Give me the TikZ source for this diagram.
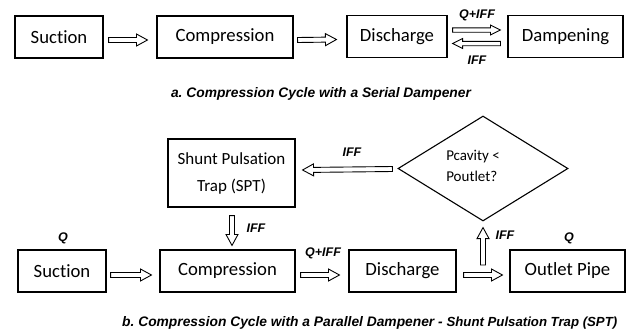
\documentclass[tikz,border=0pt]{standalone}
\usepackage{fontspec}
\setmainfont{Carlito}[Ligatures=NoCommon]
\newfontfamily\lab{Liberation Sans}
\usetikzlibrary{calc,shapes.geometric}
\frenchspacing
\tikzset{
  box/.style={draw, line width=1.1pt, minimum height=42pt, inner sep=0pt, font=\fontsize{18.7}{20}\selectfont},
  lbl/.style={font=\lab\bfseries\itshape\fontsize{12.5}{14}\selectfont, inner sep=0pt},
  captext/.style={font=\lab\bfseries\itshape\fontsize{13.8}{15}\selectfont, inner sep=0pt},
  hollow/.style={line width=0.9pt, line join=miter, to path={
    let \p1=(\tikztostart), \p2=(\tikztotarget),
        \n1={atan2(\y2-\y1,\x2-\x1)}, \n2={veclen(\x2-\x1,\y2-\y1)}
    in [shift={(\p1)}, rotate=\n1]
    (0pt,-2.5pt) -- ({\n2*1pt-11pt},-2.5pt) -- ({\n2*1pt-11pt},-6pt) -- ({\n2*1pt},0pt)
    -- ({\n2*1pt-11pt},6pt) -- ({\n2*1pt-11pt},2.5pt) -- (0pt,2.5pt) -- cycle}},
  hollowsm/.style={line width=0.9pt, line join=miter, to path={
    let \p1=(\tikztostart), \p2=(\tikztotarget),
        \n1={atan2(\y2-\y1,\x2-\x1)}, \n2={veclen(\x2-\x1,\y2-\y1)}
    in [shift={(\p1)}, rotate=\n1]
    (0pt,-2.2pt) -- ({\n2*1pt-10pt},-2.2pt) -- ({\n2*1pt-10pt},-5pt) -- ({\n2*1pt},0pt)
    -- ({\n2*1pt-10pt},5pt) -- ({\n2*1pt-10pt},2.2pt) -- (0pt,2.2pt) -- cycle}},
}
\begin{document}
\begin{tikzpicture}[x=1pt,y=-1pt]
\useasboundingbox (0,0) rectangle (626,335);
% top row
\node[box, minimum width=88pt] (s1) at (59,37) {Suction};
\node[box, minimum width=136pt] (c1) at (225,37) {Compression};
\node[box, minimum width=100pt] (d1) at (397,36.5) {Discharge};
\node[box, minimum width=115pt] (p1) at (565.5,36.5) {Dampening};
\draw[hollow] ($(s1.east)+(5,3)$) to ($(c1.west)+(-9,3)$);
\draw[hollow] ($(c1.east)+(4,3)$) to ($(d1.west)+(-10,3)$);
\draw[hollowsm] ($(d1.east)+(5,-6.5)$) to ($(p1.west)+(-7,-6.5)$);
\draw[hollowsm] ($(p1.west)+(-7,7)$) to ($(d1.east)+(5,7)$);
\node[lbl] (l1) at (477,15) {Q+IFF};
\node[lbl] (l2) at (477,60) {IFF};
\node[captext] (ca) at (321,94) {a. Compression Cycle with a Serial Dampener};
% bottom
\node[box, minimum width=127pt, minimum height=68pt, align=center, font=\fontsize{17}{27}\selectfont] (spt) at (231.5,173) {Shunt Pulsation\\Trap (SPT)};
\node[draw, diamond, line width=1.1pt, minimum width=170pt, minimum height=105pt, inner sep=0pt] (dia) at (483,168.5) {};
\node[align=left, inner sep=0pt, font=\fontsize{15}{21}\selectfont] (dtx) at (473,165.5) {Pcavity <\\Poutlet?};
\node[box, minimum width=88pt] (s2) at (62,271) {Suction};
\node[box, minimum width=135pt] (c2) at (227.5,271) {Compression};
\node[box, minimum width=107pt] (d2) at (402.5,271) {Discharge};
\node[box, minimum width=115pt] (o2) at (567.5,271) {Outlet Pipe};
\coordinate (up) at ($(d2.east)!0.5!(o2.west)+(0,-6)$);
\draw[hollow] ($(s2.east)+(4,4)$) to ($(c2.west)+(-8,4)$);
\draw[hollow] ($(c2.east)+(5,4)$) to ($(d2.west)+(-9,4)$);
\draw[hollow] ($(d2.east)+(7,4)$) to ($(o2.west)+(-7,4)$);
\draw[hollow] ($(spt.south)+(0.5,8)$) to ($(c2.north)+(4.5,-4)$);
\draw[hollow] (up) to ($(dia.south)+(0,6)$);
\draw[hollow] ($(dia.west)+(-5,0.5)$) to ($(spt.east)+(7,-3)$);
\node[lbl] (q1) at (63,238) {Q};
\node[lbl] (i1) at (256,228) {IFF};
\node[lbl] (qi) at (323,253) {Q+IFF};
\node[lbl] (i2) at (352,152) {IFF};
\node[lbl] (i3) at (505,235) {IFF};
\node[lbl] (q2) at (569,238) {Q};
\node[captext, anchor=west] (cb) at (122,323) {b. Compression Cycle with a Parallel Dampener - {\fontsize{13.2}{14}\selectfont Shunt Pulsation Trap (SPT)}};
\end{tikzpicture}
\end{document}
